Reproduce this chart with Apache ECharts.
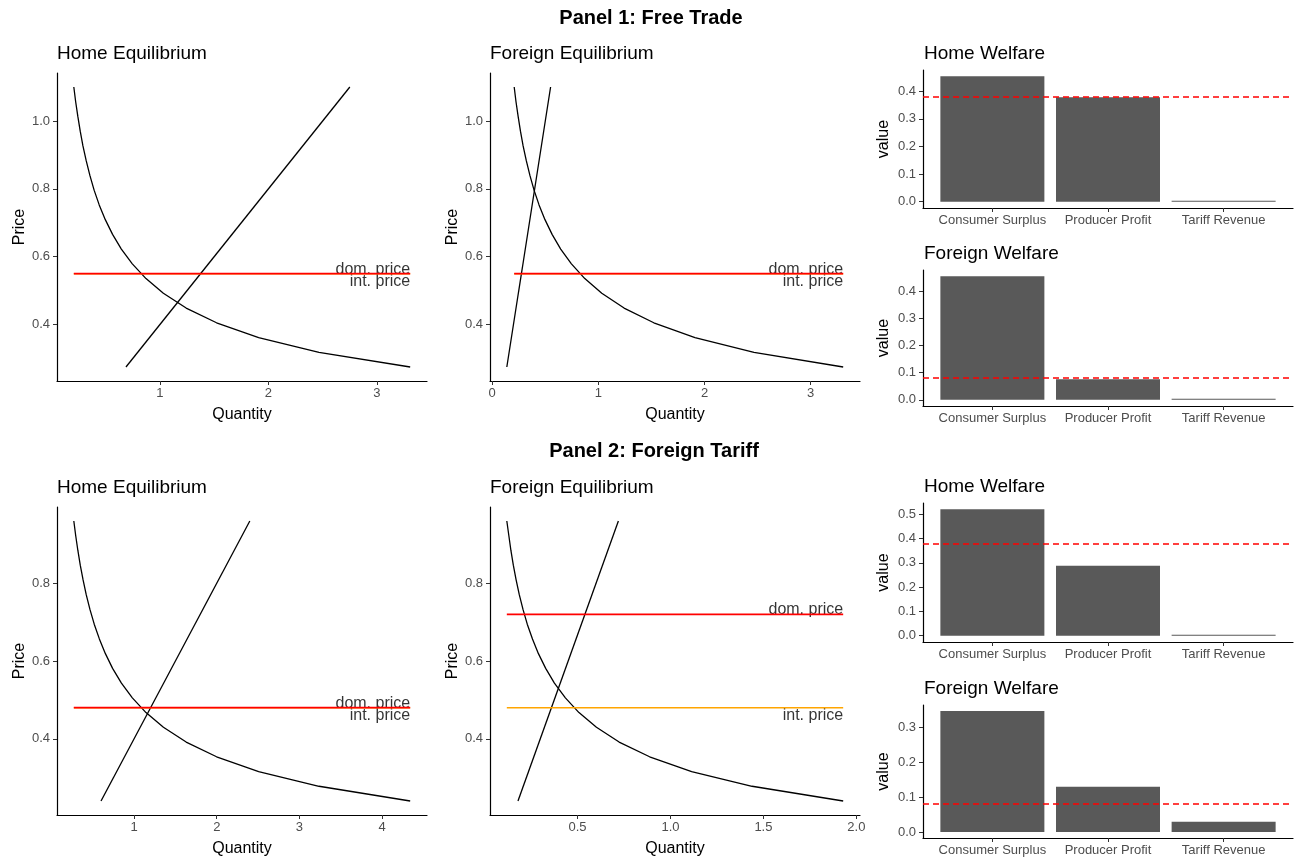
<!DOCTYPE html>
<html>
<head>
<meta charset="utf-8">
<script src="https://cdn.jsdelivr.net/npm/echarts@6/dist/echarts.min.js"></script>
<style>
  html, body { margin: 0; padding: 0; background: #fff; }
  #main { width: 1296px; height: 861px; }
</style>
</head>
<body>
<div id="main"></div>
<script>
// ---- panel 1: free trade ----
var p1DemandP = [0.275, 0.3184, 0.3618, 0.4053, 0.4487, 0.4921, 0.5355, 0.5789, 0.6224, 0.6658,
                 0.7092, 0.7526, 0.7961, 0.8395, 0.8829, 0.9263, 0.9697, 1.0132, 1.0566, 1.1];
var p1DemandQ = [3.306, 2.466, 1.910, 1.522, 1.242, 1.032, 0.872, 0.746, 0.645, 0.564,
                 0.497, 0.441, 0.394, 0.355, 0.321, 0.291, 0.266, 0.244, 0.224, 0.207];
var p1SupplyP = [0.275, 1.1];
var p1HomeSupplyQ = [0.6875, 2.75];
var p1ForeignSupplyQ = [0.1375, 0.55];
var p1HomeDom = 0.55, p1HomeInt = 0.55;
var p1ForeignDom = 0.55, p1ForeignInt = 0.55;

// ---- panel 2: foreign tariff ----
var p2DemandP = [0.24, 0.2779, 0.3158, 0.3537, 0.3916, 0.4295, 0.4674, 0.5053, 0.5432, 0.5811,
                 0.6189, 0.6568, 0.6947, 0.7326, 0.7705, 0.8084, 0.8463, 0.8842, 0.9221, 0.96];
var p2HomeDemandQ = [4.340, 3.237, 2.507, 1.998, 1.630, 1.355, 1.144, 0.979, 0.847, 0.740,
                     0.653, 0.580, 0.518, 0.466, 0.421, 0.383, 0.349, 0.320, 0.294, 0.271];
var p2ForeignDemandQ = [1.929, 1.439, 1.114, 0.888, 0.724, 0.602, 0.508, 0.435, 0.376, 0.329,
                        0.290, 0.258, 0.230, 0.207, 0.187, 0.170, 0.155, 0.142, 0.131, 0.120];
var p2SupplyP = [0.24, 0.96];
var p2HomeSupplyQ = [0.6, 2.4];
var p2ForeignSupplyQ = [0.18, 0.72];
var p2HomeDom = 0.48, p2HomeInt = 0.48;
var p2ForeignDom = 0.72, p2ForeignInt = 0.48;

// ---- welfare bars ----
var welfareCats = ['Consumer Surplus', 'Producer Profit', 'Tariff Revenue'];
var p1HomeWelfare = [0.4545, 0.3781, 0];
var p1ForeignWelfare = [0.4545, 0.0756, 0];
var p2HomeWelfare = [0.5208, 0.2880, 0];
var p2ForeignWelfare = [0.3472, 0.1296, 0.0293];
var homeFreeTradeProfit = 0.3781;
var foreignFreeTradeProfit = 0.0756;

// ---- tick labels ----
var p1PriceTicks = [0.4, 0.6, 0.8, 1.0];
var p2PriceTicks = [0.4, 0.6, 0.8];
var p1HomeQTicks = [1, 2, 3];
var p1ForeignQTicks = [0, 1, 2, 3];
var p2HomeQTicks = [1, 2, 3, 4];
var p2ForeignQTicks = [0.5, 1.0, 1.5, 2.0];
var p1WelfareTicks = [0, 0.1, 0.2, 0.3, 0.4];
var p2HomeWelfareTicks = [0, 0.1, 0.2, 0.3, 0.4, 0.5];
var p2ForeignWelfareTicks = [0, 0.1, 0.2, 0.3];

var FONT = '"Liberation Sans", Arial, Helvetica, sans-serif';
var myChart = echarts.init(document.getElementById('main'));

function pairs(xs, ys) { return xs.map(function (x, i) { return [x, ys[i]]; }); }
function expand(vals) {
    var lo = Math.min.apply(null, vals), hi = Math.max.apply(null, vals), pad = (hi - lo) * 0.05;
    return [lo - pad, hi + pad];
}

var grids = [], xAxes = [], yAxes = [], series = [], graphics = [];

function axisBase(ticks, fmt, margin) {
    return {
        axisLine: { show: true, onZero: false, lineStyle: { color: '#000', width: 1.2 } },
        axisTick: { show: true, length: 4, lineStyle: { color: '#333', width: 1 }, customValues: ticks },
        axisLabel: { customValues: ticks, formatter: fmt, color: '#4d4d4d', fontSize: 13, fontFamily: FONT, margin: margin },
        splitLine: { show: false }
    };
}

function title(text, x, y, size, bold, align) {
    graphics.push({
        type: 'text', x: x, y: y, silent: true,
        style: { text: text, fill: '#000', fontSize: size, fontFamily: FONT, fontWeight: bold ? 'bold' : 'normal',
                 align: align || 'left', verticalAlign: 'middle' }
    });
}

// equilibrium plot
function eqPanel(box, name, dP, dQ, sP, sQ, dom, intl, qTicks, qFmt, pTicks, domOff, intOff) {
    var g = grids.length;
    grids.push({ left: box[0], top: box[1], width: box[2], height: box[3], outerBoundsMode: 'none' });
    var xr = expand(dQ.concat(sQ)), yr = expand(dP.concat(sP));
    xAxes.push(Object.assign({ type: 'value', gridIndex: g, min: xr[0], max: xr[1],
        name: 'Quantity', nameLocation: 'middle', nameGap: 26,
        nameTextStyle: { color: '#000', fontSize: 16, fontFamily: FONT } }, axisBase(qTicks, qFmt, 6)));
    yAxes.push(Object.assign({ type: 'value', gridIndex: g, min: yr[0], max: yr[1],
        name: 'Price', nameLocation: 'middle', nameGap: 29,
        nameTextStyle: { color: '#000', fontSize: 16, fontFamily: FONT } },
        axisBase(pTicks, function (v) { return v.toFixed(1); }, 7)));
    title(name, box[0], box[1] - 19, 19);

    var qLo = Math.min.apply(null, dQ), qHi = Math.max.apply(null, dQ);
    var lineDefaults = { type: 'line', xAxisIndex: g, yAxisIndex: g, showSymbol: false, symbol: 'none', silent: true };
    series.push(Object.assign({ data: pairs(dQ, dP), lineStyle: { color: '#000', width: 1.3 } }, lineDefaults));
    series.push(Object.assign({ data: pairs(sQ, sP), lineStyle: { color: '#000', width: 1.3 } }, lineDefaults));
    series.push(Object.assign({ data: [[qLo, intl], [qHi, intl]], lineStyle: { color: '#ffa500', width: 1.5 } }, lineDefaults));
    series.push(Object.assign({ data: [[qLo, dom], [qHi, dom]], lineStyle: { color: '#ff0000', width: 1.9 } }, lineDefaults));
    [['dom. price', dom, domOff], ['int. price', intl, intOff]].forEach(function (t) {
        series.push({
            type: 'scatter', xAxisIndex: g, yAxisIndex: g, symbolSize: 0, silent: true,
            data: [[qHi, t[1]]],
            label: { show: true, formatter: t[0], position: [0, 0], offset: [0, t[2]], align: 'right',
                     verticalAlign: 'middle', color: '#000', fontSize: 16, fontFamily: FONT }
        });
    });
}

// welfare bar plot
function welfarePanel(box, name, vals, baseline, ticks) {
    var g = grids.length;
    grids.push({ left: box[0], top: box[1], width: box[2], height: box[3], outerBoundsMode: 'none' });
    var yr = expand(vals.concat([0, baseline]));
    xAxes.push(Object.assign({ type: 'value', gridIndex: g, min: 0.4, max: 3.6 },
        axisBase([1, 2, 3], function (v) { return welfareCats[Math.round(v) - 1]; }, 6)));
    yAxes.push(Object.assign({ type: 'value', gridIndex: g, min: yr[0], max: yr[1],
        name: 'value', nameLocation: 'middle', nameGap: 31,
        nameTextStyle: { color: '#000', fontSize: 16, fontFamily: FONT } },
        axisBase(ticks, function (v) { return v.toFixed(1); }, 7)));
    title(name, box[0] + 1, box[1] - 16, 19);
    series.push({
        type: 'bar', xAxisIndex: g, yAxisIndex: g, silent: true,
        data: vals.map(function (v, i) { return [i + 1, v]; }),
        barWidth: 104, barMinHeight: 1,
        itemStyle: { color: '#595959' },
        markLine: {
            silent: true, symbol: 'none', label: { show: false },
            lineStyle: { color: '#ff0000', type: [6, 4], width: 1.5 },
            data: [{ yAxis: baseline }]
        }
    });
}

var fmtInt = function (v) { return String(Math.round(v)); };
var fmt1 = function (v) { return v.toFixed(1); };

title('Panel 1: Free Trade', 651, 18, 20, true, 'center');
title('Panel 2: Foreign Tariff', 654, 451, 20, true, 'center');

eqPanel([57, 73, 370, 308], 'Home Equilibrium', p1DemandP, p1DemandQ, p1SupplyP, p1HomeSupplyQ,
        p1HomeDom, p1HomeInt, p1HomeQTicks, fmtInt, p1PriceTicks, -4, 8);
eqPanel([490, 73, 370, 308], 'Foreign Equilibrium', p1DemandP, p1DemandQ, p1SupplyP, p1ForeignSupplyQ,
        p1ForeignDom, p1ForeignInt, p1ForeignQTicks, fmtInt, p1PriceTicks, -4, 8);
eqPanel([57, 507, 370, 308], 'Home Equilibrium', p2DemandP, p2HomeDemandQ, p2SupplyP, p2HomeSupplyQ,
        p2HomeDom, p2HomeInt, p2HomeQTicks, fmtInt, p2PriceTicks, -4, 8);
eqPanel([490, 507, 370, 308], 'Foreign Equilibrium', p2DemandP, p2ForeignDemandQ, p2SupplyP, p2ForeignSupplyQ,
        p2ForeignDom, p2ForeignInt, p2ForeignQTicks, fmt1, p2PriceTicks, -5, 8);

welfarePanel([923, 70, 370, 138], 'Home Welfare', p1HomeWelfare, homeFreeTradeProfit, p1WelfareTicks);
welfarePanel([923, 270, 370, 136], 'Foreign Welfare', p1ForeignWelfare, foreignFreeTradeProfit, p1WelfareTicks);
welfarePanel([923, 503, 370, 139], 'Home Welfare', p2HomeWelfare, homeFreeTradeProfit, p2HomeWelfareTicks);
welfarePanel([923, 705, 370, 133], 'Foreign Welfare', p2ForeignWelfare, foreignFreeTradeProfit, p2ForeignWelfareTicks);

var option = {
    animation: false,
    backgroundColor: '#fff',
    textStyle: { fontFamily: FONT },
    grid: grids,
    xAxis: xAxes,
    yAxis: yAxes,
    series: series,
    graphic: graphics
};
myChart.setOption(option);
</script>
</body>
</html>
